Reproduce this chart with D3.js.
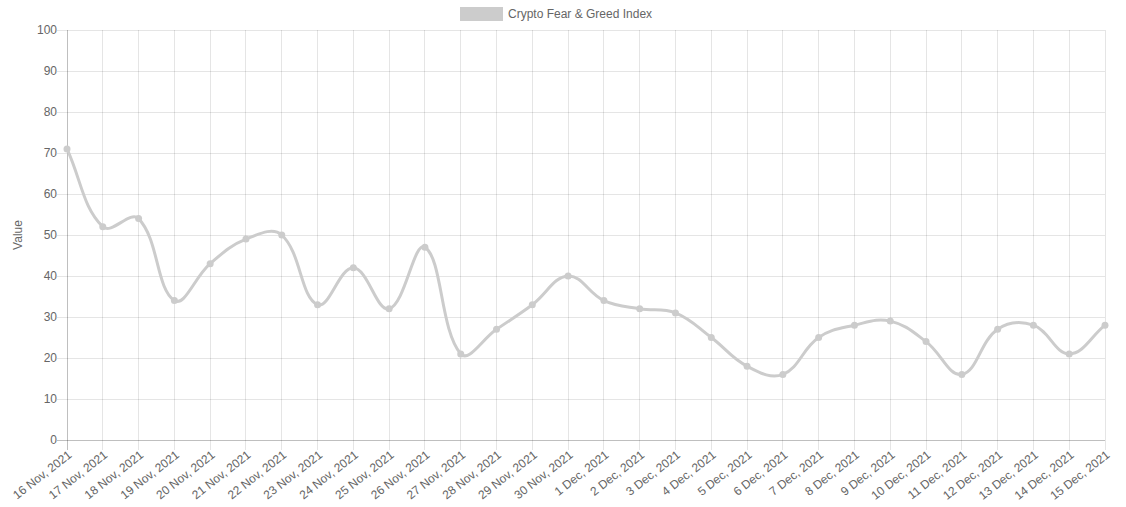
<!DOCTYPE html>
<html>
<head>
<meta charset="utf-8">
<script src="https://cdn.jsdelivr.net/npm/d3@7"></script>
<style>
  body { margin: 0; background: #fff; }
  text { font-family: "Liberation Sans", Arial, Helvetica, sans-serif; fill: #666; }
</style>
</head>
<body>
<svg id="chart"></svg>
<script>
const dates = ["16 Nov, 2021", "17 Nov, 2021", "18 Nov, 2021", "19 Nov, 2021", "20 Nov, 2021",
  "21 Nov, 2021", "22 Nov, 2021", "23 Nov, 2021", "24 Nov, 2021", "25 Nov, 2021",
  "26 Nov, 2021", "27 Nov, 2021", "28 Nov, 2021", "29 Nov, 2021", "30 Nov, 2021",
  "1 Dec, 2021", "2 Dec, 2021", "3 Dec, 2021", "4 Dec, 2021", "5 Dec, 2021",
  "6 Dec, 2021", "7 Dec, 2021", "8 Dec, 2021", "9 Dec, 2021", "10 Dec, 2021",
  "11 Dec, 2021", "12 Dec, 2021", "13 Dec, 2021", "14 Dec, 2021", "15 Dec, 2021"];
const indexValues = [71, 52, 54, 34, 43, 49, 50, 33, 42, 32,
  47, 21, 27, 33, 40, 34, 32, 31, 25, 18,
  16, 25, 28, 29, 24, 16, 27, 28, 21, 28];
const yTicks = [0, 10, 20, 30, 40, 50, 60, 70, 80, 90, 100];
const seriesName = "Crypto Fear & Greed Index";

let chartWidth = 1126;
let chartHeight = 507;
let plotLeft = 67, plotRight = 1105, plotTop = 30, plotBottom = 440;
let lineColor = "#cccccc";
let labelAngle = 38;

let svg = d3.select("#chart")
  .attr("width", chartWidth)
  .attr("height", chartHeight);

let x = d3.scalePoint()
  .domain(dates)
  .range([plotLeft, plotRight]);

let y = d3.scaleLinear()
  .domain([0, 100])
  .range([plotBottom, plotTop]);

// grid
svg.append("g")
  .selectAll("line")
  .data(dates)
  .enter().append("line")
  .attr("x1", d => x(d)).attr("x2", d => x(d))
  .attr("y1", plotTop).attr("y2", plotBottom + 10)
  .attr("stroke", d => d == dates[0] ? "rgba(0,0,0,0.25)" : "rgba(0,0,0,0.1)")
  .attr("shape-rendering", "crispEdges");

svg.append("g")
  .selectAll("line")
  .data(yTicks)
  .enter().append("line")
  .attr("x1", plotLeft - 10).attr("x2", plotRight)
  .attr("y1", d => y(d)).attr("y2", d => y(d))
  .attr("stroke", d => d == 0 ? "rgba(0,0,0,0.25)" : "rgba(0,0,0,0.1)")
  .attr("shape-rendering", "crispEdges");

// y labels
svg.append("g")
  .selectAll("text")
  .data(yTicks)
  .enter().append("text")
  .attr("x", plotLeft - 10)
  .attr("y", d => y(d))
  .attr("dy", "0.35em")
  .attr("text-anchor", "end")
  .style("font-size", "12px")
  .text(d => d);

svg.append("text")
  .attr("transform", `translate(22, ${(plotTop + plotBottom) / 2}) rotate(-90)`)
  .attr("text-anchor", "middle")
  .style("font-size", "12px")
  .text("Value");

// x labels
svg.append("g")
  .selectAll("text")
  .data(dates)
  .enter().append("text")
  .attr("transform", d => `translate(${x(d) + 3}, ${plotBottom + 13}) rotate(${-labelAngle})`)
  .attr("dy", "0.35em")
  .attr("text-anchor", "end")
  .style("font-size", "12px")
  .text(d => d);

// spline like chart.js tension 0.4
function splinePath(pts, tension) {
  let path = d3.path();
  let ctrl = pts.map((p, i) => {
    let prev = pts[Math.max(i - 1, 0)];
    let next = pts[Math.min(i + 1, pts.length - 1)];
    let d01 = Math.hypot(p[0] - prev[0], p[1] - prev[1]);
    let d12 = Math.hypot(next[0] - p[0], next[1] - p[1]);
    let s01 = d01 / (d01 + d12) || 0;
    let s12 = d12 / (d01 + d12) || 0;
    let fa = tension * s01, fb = tension * s12;
    let cp1 = [p[0] - fa * (next[0] - prev[0]), p[1] - fa * (next[1] - prev[1])];
    let cp2 = [p[0] + fb * (next[0] - prev[0]), p[1] + fb * (next[1] - prev[1])];
    cp1[1] = Math.max(plotTop, Math.min(plotBottom, cp1[1]));
    cp2[1] = Math.max(plotTop, Math.min(plotBottom, cp2[1]));
    return [cp1, cp2];
  });
  path.moveTo(pts[0][0], pts[0][1]);
  for (let i = 1; i < pts.length; i++) {
    let a = ctrl[i - 1][1], b = ctrl[i][0];
    path.bezierCurveTo(a[0], a[1], b[0], b[1], pts[i][0], pts[i][1]);
  }
  return path.toString();
}

let pts = dates.map((d, i) => [x(d), y(indexValues[i])]);

svg.append("path")
  .attr("d", splinePath(pts, 0.4))
  .attr("fill", "none")
  .attr("stroke", lineColor)
  .attr("stroke-width", 3);

svg.append("g")
  .selectAll("circle")
  .data(indexValues)
  .enter().append("circle")
  .attr("cx", (d, i) => x(dates[i]))
  .attr("cy", d => y(d))
  .attr("r", 3.5)
  .attr("fill", lineColor);

// legend
let legend = svg.append("g");
legend.append("rect")
  .attr("x", 460).attr("y", 7)
  .attr("width", 43).attr("height", 14)
  .attr("fill", lineColor);
legend.append("text")
  .attr("x", 508).attr("y", 14)
  .attr("dy", "0.35em")
  .style("font-size", "12px")
  .text(seriesName);
</script>
</body>
</html>
